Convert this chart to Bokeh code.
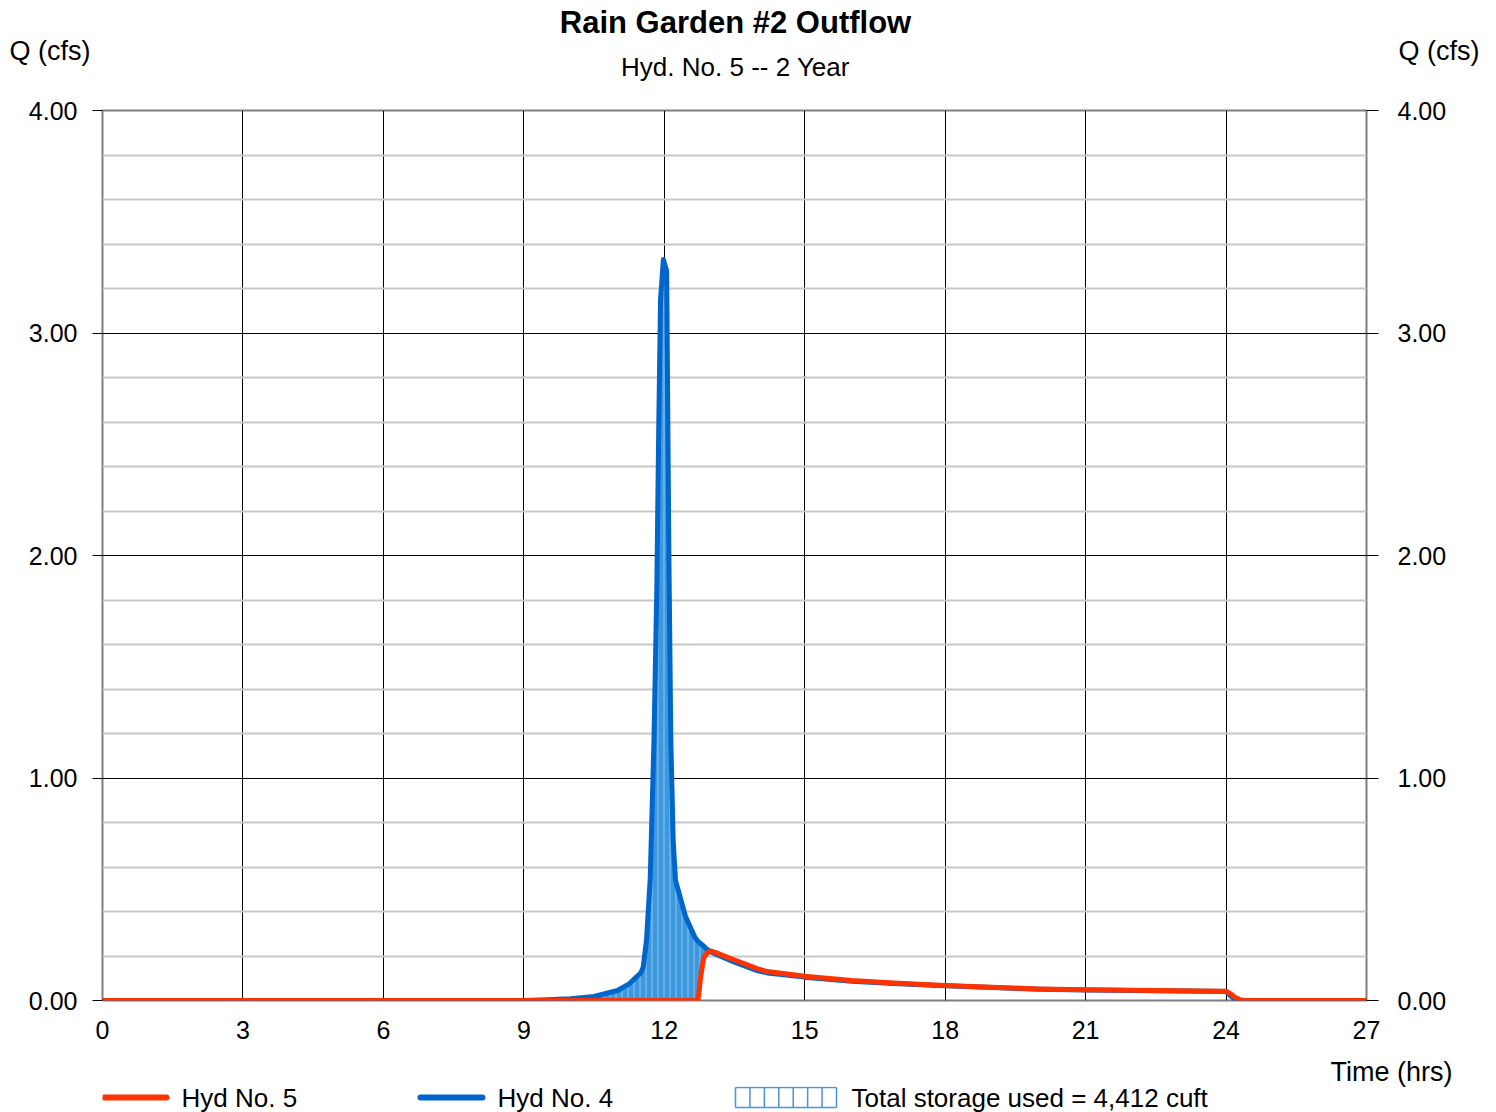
import numpy as np
from bokeh.plotting import figure
from bokeh.models import Range1d, LinearAxis, FixedTicker, NumeralTickFormatter, Title
from bokeh.layouts import column
from bokeh.embed import file_html
from bokeh.resources import INLINE
from bokeh.core.properties import value

# ---------------- data ----------------
title_text = "Rain Garden #2 Outflow"
subtitle_text = "Hyd. No. 5 -- 2 Year"
y_label = "Q (cfs)"
x_label = "Time (hrs)"
series_names = ["Hyd No. 5", "Hyd No. 4"]
storage_text = "Total storage used = 4,412 cuft"

time_hrs = [0.0, 9.0, 9.5, 10.0, 10.5, 11.0, 11.25, 11.5, 11.55, 11.62, 11.7, 11.78,
            11.84, 11.88, 11.92, 11.98, 12.05, 12.1, 12.14, 12.19, 12.24, 12.45, 12.65,
            12.72, 12.78, 12.84, 12.92, 13.0, 13.1, 13.5, 14.0, 14.2, 14.5, 15.0,
            16.0, 17.0, 18.0, 19.0, 20.0, 21.0, 22.0, 23.0, 24.0, 24.1, 24.2, 24.3,
            24.4, 27.0]
# Hyd No. 4 (inflow)
hyd4_q = [0.0, 0.0, 0.003, 0.008, 0.018, 0.045, 0.075, 0.125, 0.15, 0.27, 0.55, 1.17,
          1.84, 2.55, 3.15, 3.33, 3.28, 1.97, 1.17, 0.72, 0.54, 0.38, 0.285,
          0.265, 0.255, 0.245, 0.228, 0.218, 0.208, 0.172, 0.133, 0.124, 0.117, 0.105,
          0.087, 0.075, 0.066, 0.058, 0.051, 0.047, 0.045, 0.043, 0.041, 0.02, 0.004, 0.0,
          0.0, 0.0]
# Hyd No. 5 (outflow)
hyd5_q = [0.0, 0.0, 0.0, 0.0, 0.0, 0.0, 0.0, 0.0, 0.0, 0.0, 0.0, 0.0,
          0.0, 0.0, 0.0, 0.0, 0.0, 0.0, 0.0, 0.0, 0.0, 0.0, 0.0,
          0.0, 0.11, 0.19, 0.215, 0.222, 0.215, 0.182, 0.142, 0.13, 0.122, 0.109,
          0.09, 0.077, 0.067, 0.06, 0.052, 0.048, 0.046, 0.044, 0.042, 0.03, 0.013, 0.003,
          0.0, 0.0]

x_ticks = [0, 3, 6, 9, 12, 15, 18, 21, 24, 27]
y_ticks = [0, 1, 2, 3, 4]
y_minor = [0.2, 0.4, 0.6, 0.8, 1.2, 1.4, 1.6, 1.8, 2.2, 2.4, 2.6, 2.8,
           3.2, 3.4, 3.6, 3.8]

# ---------------- layout constants (pixels) ----------------
FONT = "Liberation Sans"
W = 1496
FL, FR = 102, 1366          # frame left / right
HEAD_H = 88                 # header strip 0..88
MAIN_BOTTOM = 1050          # main figure 88..1050
LEG_FRAME_TOP = 1086        # legend strip 1050..1112, its frame 1086..1112
FRAME_TOP, FRAME_BOT = 110, 1000
TOTAL_H = 1112
RED = "#ff3300"
BLUE = "#0066cc"

t = np.array(time_hrs)
q4 = np.array(hyd4_q)
q5 = np.array(hyd5_q)


def hide_grids(fig):
    for g in fig.grid:
        g.visible = False
    fig.xgrid.visible = False
    fig.ygrid.visible = False


# ---------------- header strip ----------------
hd = figure(width=W, height=HEAD_H, x_range=Range1d(FL, FR), y_range=Range1d(HEAD_H, 0),
            output_backend="svg", toolbar_location=None, title_location=None,
            min_border_left=FL, min_border_right=W - FR, min_border_top=0,
            min_border_bottom=0, x_axis_location=None, y_axis_location=None)
hd.outline_line_color = None
hd.background_fill_color = "white"
hd.border_fill_color = "white"
hide_grids(hd)


def label_axis(standoff):
    ax = LinearAxis(ticker=FixedTicker(ticks=[50]), major_label_overrides={50: y_label})
    ax.axis_line_color = None
    ax.major_tick_line_color = None
    ax.major_tick_out = 0
    ax.major_tick_in = 0
    ax.minor_tick_line_color = None
    ax.minor_tick_out = 0
    ax.major_label_standoff = standoff
    ax.major_label_text_font = FONT
    ax.major_label_text_font_size = "27px"
    ax.major_label_text_color = "black"
    return ax


hd.add_layout(label_axis(12), "left")
hd.add_layout(label_axis(32), "right")
hd.text(x=[735], y=[22], text=[title_text], text_font=value(FONT), text_font_size="31px",
        text_font_style="bold", text_align="center", text_baseline="middle",
        text_color="black")
hd.text(x=[735], y=[66], text=[subtitle_text], text_font=value(FONT), text_font_size="26px",
        text_align="center", text_baseline="middle", text_color="black")

# ---------------- main chart ----------------
p = figure(width=W, height=MAIN_BOTTOM - HEAD_H, x_range=Range1d(0, 27), y_range=Range1d(0, 4),
           output_backend="svg", toolbar_location=None, title_location=None,
           min_border_left=FL, min_border_right=W - FR,
           min_border_top=FRAME_TOP - HEAD_H, min_border_bottom=MAIN_BOTTOM - FRAME_BOT)
p.background_fill_color = "white"
p.border_fill_color = "white"
p.outline_line_color = "#7f7f7f"
p.outline_line_width = 2

p.xgrid.ticker = FixedTicker(ticks=x_ticks[1:-1])
p.xgrid.grid_line_color = "black"
p.xgrid.grid_line_width = 1
p.ygrid.ticker = FixedTicker(ticks=y_ticks, minor_ticks=y_minor)
p.ygrid.grid_line_color = "black"
p.ygrid.grid_line_width = 1
p.ygrid.minor_grid_line_color = "#c8c8c8"
p.ygrid.minor_grid_line_width = 2

xa = p.xaxis[0]
xa.ticker = FixedTicker(ticks=x_ticks)
xa.major_tick_out = 0
xa.major_tick_in = 0
xa.minor_tick_line_color = None
xa.minor_tick_out = 0
xa.axis_line_color = None
xa.major_label_standoff = 20
xa.major_label_text_font = FONT
xa.major_label_text_font_size = "25px"
xa.major_label_text_color = "black"


def style_y(ax, tick_out, standoff):
    ax.ticker = FixedTicker(ticks=y_ticks)
    ax.formatter = NumeralTickFormatter(format="0.00")
    ax.major_tick_out = tick_out
    ax.major_tick_in = 0
    ax.major_tick_line_color = "black"
    ax.minor_tick_line_color = None
    ax.axis_line_color = None
    ax.major_label_standoff = standoff
    ax.major_label_text_font = FONT
    ax.major_label_text_font_size = "25px"
    ax.major_label_text_color = "black"


style_y(p.yaxis[0], 10, 15)
ra = LinearAxis()
style_y(ra, 12, 19)
p.add_layout(ra, "right")

# storage area between inflow and outflow
p.varea(x=t, y1=q5, y2=np.maximum(q4, q5), fill_color="#3d98de",
        hatch_pattern="vertical_line", hatch_color="#8cc6f2", hatch_scale=6,
        hatch_weight=1)
p.line(t, q4, line_color=BLUE, line_width=5, line_join="round", line_cap="round")
p.line(t, q5, line_color=RED, line_width=5, line_join="round", line_cap="round")

# ---------------- legend strip ----------------
lg = figure(width=W, height=TOTAL_H - MAIN_BOTTOM, x_range=Range1d(FL, FR),
            y_range=Range1d(TOTAL_H, LEG_FRAME_TOP), output_backend="svg",
            toolbar_location=None, title_location=None,
            min_border_left=FL, min_border_right=W - FR,
            min_border_top=LEG_FRAME_TOP - MAIN_BOTTOM,
            min_border_bottom=0, x_axis_location=None, y_axis_location=None)
lg.outline_line_color = None
lg.background_fill_color = "white"
lg.border_fill_color = "white"
hide_grids(lg)

lg.add_layout(Title(text=x_label, align="right", offset=-86, vertical_align="bottom",
                    standoff=0, text_font=FONT, text_font_size="27px",
                    text_font_style="normal", text_color="black"), "above")

lg.line([104, 166], [1097, 1097], line_color=RED, line_width=6, line_cap="round")
lg.line([420, 482], [1097, 1097], line_color=BLUE, line_width=6, line_cap="round")
bx = np.linspace(735, 836, 8)
lg.segment(x0=bx, y0=[1087] * len(bx), x1=bx, y1=[1107] * len(bx),
           line_color="#4a94dc", line_width=1.5)
lg.segment(x0=[735, 735], y0=[1087, 1107], x1=[836, 836], y1=[1087, 1107],
           line_color="#4a94dc", line_width=1.5)
lg.text(x=[181, 497, 851], y=[1097, 1097, 1097],
        text=[series_names[0], series_names[1], storage_text],
        text_font=value(FONT), text_font_size="26px", text_baseline="middle",
        text_align="left", text_color="black")

layout = column(hd, p, lg, spacing=0)
open("out.html", "w").write(file_html(layout, INLINE))
